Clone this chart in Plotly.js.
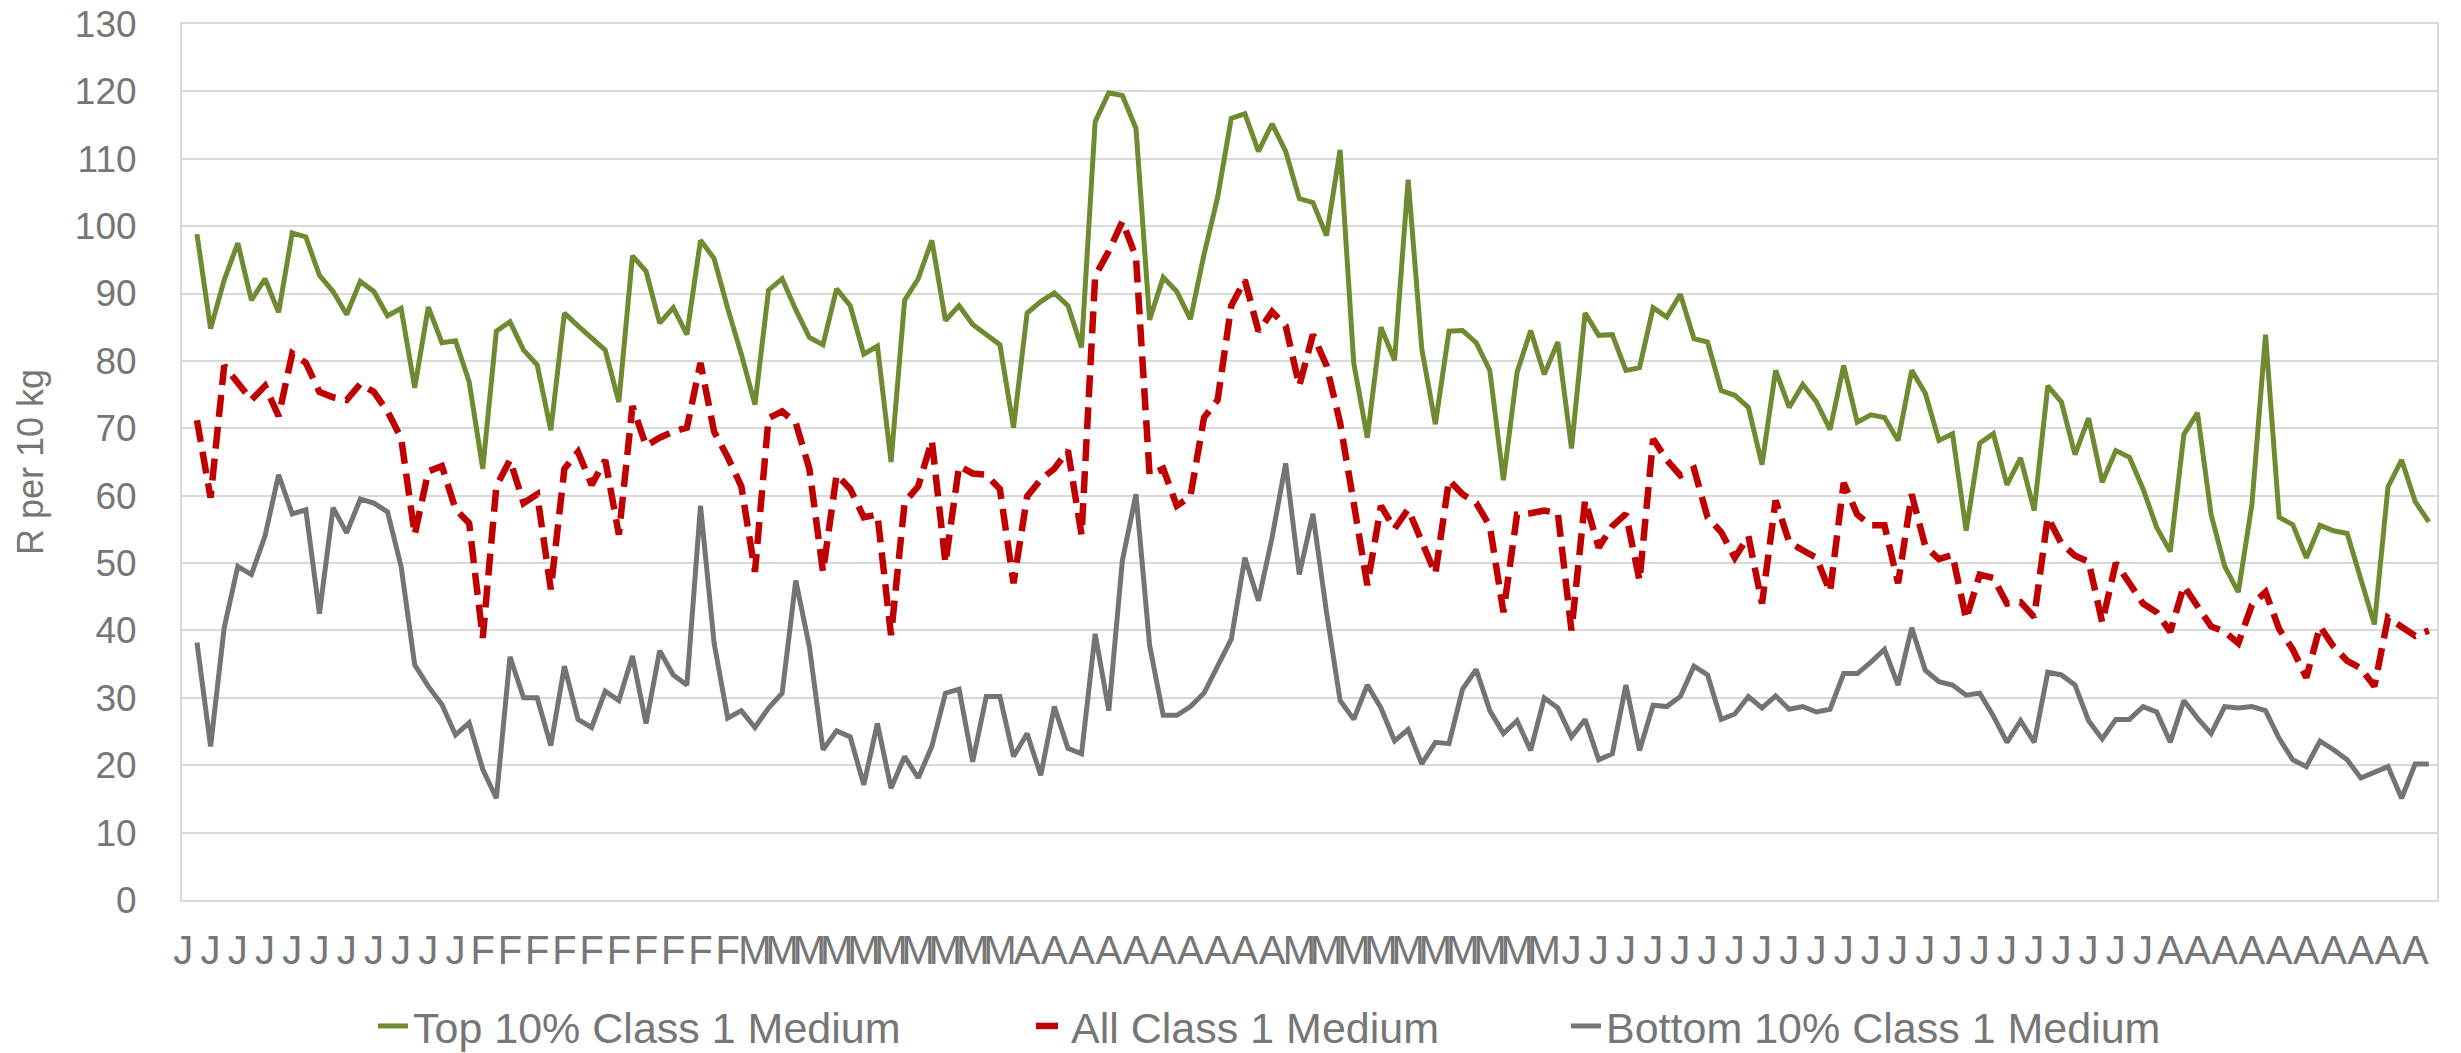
<!DOCTYPE html>
<html>
<head>
<meta charset="utf-8">
<script src="https://cdn.plot.ly/plotly-3.0.1.min.js"></script>
<style>
  html, body { margin: 0; padding: 0; background: #ffffff; }
  #chart { width: 2461px; height: 1053px; }
</style>
</head>
<body>
<div id="chart"></div>
<script>
// Month-initial tick labels (one label per two categories)
const monthLabels = [].concat(
  "JJJJJJJJJJJ".split(""),
  "FFFFFFFFFF".split(""),
  "MMMMMMMMMM".split(""),
  "AAAAAAAAAA".split(""),
  "MMMMMMMMMM".split(""),
  "JJJJJJJJJJJJJJJJJJJJJJ".split(""),
  "AAAAAAAAAA".split("")
);

// Series names
const seriesNames = ["Top 10% Class 1 Medium", "All Class 1 Medium", "Bottom 10% Class 1 Medium"];

// Top 10% Class 1 Medium (R per 10 kg)
const top10 = [
  98.8, 84.8, 92.0, 97.5, 89.0, 92.2, 87.2, 99.0, 98.4, 92.7,
  90.3, 86.9, 91.8, 90.3, 86.7, 87.8, 76.0, 88.0, 82.7, 83.0,
  76.9, 64.0, 84.4, 85.8, 81.6, 79.4, 69.7, 87.1, 85.2, 83.5,
  81.6, 73.9, 95.6, 93.3, 85.6, 87.9, 83.9, 97.9, 95.2, 87.8,
  81.0, 73.5, 90.5, 92.2, 87.6, 83.5, 82.4, 90.7, 88.2, 81.0,
  82.2, 65.0, 89.0, 92.2, 97.9, 86.0, 88.2, 85.4, 83.9, 82.4,
  70.1, 87.1, 88.8, 90.1, 88.2, 82.0, 115.5, 119.8, 119.4, 114.5,
  86.1, 92.4, 90.3, 86.2, 95.8, 104.3, 116.0, 116.7, 111.1, 115.2,
  111.1, 104.1, 103.5, 98.6, 111.3, 79.7, 68.6, 85.0, 80.1, 106.9,
  81.8, 70.6, 84.4, 84.5, 82.7, 78.6, 62.3, 78.3, 84.5, 78.0,
  82.8, 67.0, 87.1, 83.8, 83.9, 78.6, 79.0, 87.9, 86.5, 89.9,
  83.3, 82.8, 75.6, 74.9, 73.1, 64.6, 78.6, 73.1, 76.5, 73.9,
  69.8, 79.3, 70.9, 72.0, 71.6, 68.2, 78.6, 75.2, 68.2, 69.2,
  54.8, 67.8, 69.2, 61.6, 65.6, 57.8, 76.3, 73.9, 66.1, 71.5,
  62.0, 66.7, 65.7, 61.0, 55.3, 51.7, 69.1, 72.3, 57.2, 49.5,
  45.7, 58.7, 83.9, 56.8, 55.7, 50.8, 55.6, 54.8, 54.4, 47.8,
  40.9, 61.3, 65.3, 59.1, 56.1
];

// All Class 1 Medium
const allClass1 = [
  71.2, 59.7, 79.3, 76.7, 74.2, 76.3, 71.8, 81.1, 79.7, 75.4,
  74.6, 74.2, 76.6, 75.4, 72.5, 68.6, 54.2, 63.6, 64.4, 58.0,
  55.9, 38.9, 61.4, 65.3, 58.9, 60.2, 46.1, 64.0, 66.5, 61.6,
  65.3, 54.2, 73.3, 67.4, 68.6, 69.5, 70.1, 79.7, 69.5, 65.7,
  61.4, 48.7, 71.5, 72.5, 70.8, 64.0, 48.7, 63.1, 61.0, 56.8,
  57.2, 39.3, 59.0, 61.4, 68.2, 50.0, 64.4, 63.3, 63.1, 61.0,
  47.0, 59.9, 62.4, 64.0, 66.7, 54.2, 92.6, 96.3, 100.7, 95.4,
  63.1, 64.0, 58.5, 59.9, 71.6, 74.2, 88.2, 92.0, 84.4, 87.3,
  85.2, 76.3, 83.9, 79.3, 70.8, 58.9, 46.7, 58.5, 55.1, 58.0,
  53.4, 48.4, 62.3, 60.2, 58.9, 55.5, 42.7, 57.2, 57.4, 57.8,
  57.4, 40.0, 59.3, 52.3, 55.5, 57.3, 47.4, 68.4, 65.3, 63.0,
  64.0, 56.8, 54.6, 50.8, 54.0, 44.0, 59.3, 53.1, 51.9, 50.8,
  45.7, 61.9, 57.2, 55.6, 55.6, 47.0, 60.2, 52.5, 50.6, 51.2,
  41.7, 48.3, 47.8, 44.0, 44.2, 42.0, 56.8, 52.9, 51.1, 50.2,
  41.2, 50.0, 47.0, 44.0, 42.7, 39.8, 46.6, 43.6, 40.6, 39.8,
  38.1, 43.8, 45.7, 40.2, 37.2, 33.0, 40.6, 37.6, 35.5, 34.4,
  31.7, 41.9, 40.6, 39.2, 40.0
];

// Bottom 10% Class 1 Medium
const bottom10 = [
  38.2, 22.8, 40.4, 49.5, 48.3, 54.0, 63.1, 57.3, 57.9, 42.5,
  58.2, 54.5, 59.5, 58.9, 57.6, 49.5, 34.9, 31.7, 29.0, 24.5,
  26.3, 19.4, 15.1, 36.1, 30.0, 30.0, 22.9, 34.7, 26.8, 25.6,
  31.0, 29.6, 36.2, 26.2, 37.0, 33.4, 31.9, 58.5, 38.1, 27.0,
  28.1, 25.6, 28.5, 30.7, 47.4, 37.6, 22.3, 25.1, 24.2, 17.1,
  26.2, 16.6, 21.3, 18.1, 22.8, 30.7, 31.3, 20.5, 30.2, 30.2,
  21.3, 24.7, 18.5, 28.7, 22.5, 21.7, 39.5, 28.1, 50.4, 60.2,
  37.8, 27.4, 27.4, 28.7, 30.7, 34.7, 38.7, 50.8, 44.4, 53.8,
  64.8, 48.3, 57.3, 42.7, 29.6, 26.8, 31.9, 28.5, 23.6, 25.3,
  20.2, 23.4, 23.2, 31.3, 34.2, 28.1, 24.7, 26.6, 22.2, 30.0,
  28.5, 24.2, 26.8, 20.8, 21.7, 31.9, 22.2, 28.9, 28.7, 30.2,
  34.7, 33.4, 26.8, 27.6, 30.2, 28.5, 30.3, 28.3, 28.7, 27.9,
  28.3, 33.6, 33.6, 35.3, 37.2, 31.9, 40.4, 34.1, 32.4, 31.9,
  30.4, 30.7, 27.3, 23.4, 26.6, 23.4, 33.8, 33.4, 31.9, 26.6,
  23.9, 26.8, 26.8, 28.7, 27.9, 23.4, 29.6, 27.0, 24.7, 28.7,
  28.5, 28.7, 28.1, 24.0, 20.8, 19.8, 23.6, 22.3, 20.8, 18.1,
  18.9, 19.8, 15.1, 20.2, 20.2
];

// Y-axis ticks
const yTicks = [0, 10, 20, 30, 40, 50, 60, 70, 80, 90, 100, 110, 120, 130];

// ---- build chart ----
const xs = top10.map((_, i) => i + 1);          // category index of each point
const tickPos = monthLabels.map((_, k) => 2 * k); // one label every second category

const FONT = "Liberation Sans, Arial, Helvetica, sans-serif";
const TXT = "#767676";

const traces = [
  { x: xs, y: top10, name: seriesNames[0], type: "scatter", mode: "lines",
    line: { color: "#6E8B31", width: 5 }, legend: "legend" },
  { x: xs, y: allClass1, name: seriesNames[1], type: "scatter", mode: "lines",
    line: { color: "#C00000", width: 6.5, dash: "22px,10px" }, legend: "legend2" },
  { x: xs, y: bottom10, name: seriesNames[2], type: "scatter", mode: "lines",
    line: { color: "#747474", width: 5 }, legend: "legend3" }
];

const W = 2461, H = 1053;
const mL = 182, mR = 24, mT = 24, mB = 153;
const cx = p => p / W;
const cy = p => (H - p) / H;

const legendCommon = {
  orientation: "h", xanchor: "left", yanchor: "middle",
  xref: "container", yref: "container",
  font: { family: FONT, size: 43, color: TXT },
  bgcolor: "rgba(0,0,0,0)", borderwidth: 0
};

const layout = {
  width: W, height: H,
  margin: { l: mL, r: mR, t: mT, b: mB, pad: 0 },
  paper_bgcolor: "#ffffff", plot_bgcolor: "#ffffff",
  font: { family: FONT, color: TXT },
  showlegend: true,
  xaxis: {
    range: [-0.1, 165.6],
    tickmode: "array", tickvals: tickPos, ticktext: monthLabels,
    tickangle: 0, ticks: "", showgrid: false, zeroline: false,
    showline: true, linecolor: "#D9D9D9", linewidth: 2, mirror: true,
    tickfont: { family: FONT, size: 40, color: TXT },
    ticklabelstandoff: 14, automargin: false,
    fixedrange: true
  },
  yaxis: {
    range: [0, 130], tickmode: "array", tickvals: yTicks,
    ticks: "", showgrid: true, gridcolor: "#D9D9D9", gridwidth: 2,
    zeroline: false, showline: true, linecolor: "#D9D9D9", linewidth: 2, mirror: true,
    tickfont: { family: FONT, size: 37, color: TXT },
    ticklabelstandoff: 36, automargin: false,
    title: { text: "R per 10 kg", font: { family: FONT, size: 36, color: TXT }, standoff: 20 },
    fixedrange: true
  },
  legend:  Object.assign({}, legendCommon, { x: cx(373),  y: cy(1026) }),
  legend2: Object.assign({}, legendCommon, { x: cx(1031), y: cy(1026) }),
  legend3: Object.assign({}, legendCommon, { x: cx(1566), y: cy(1026) })
};

Plotly.newPlot("chart", traces, layout, { displayModeBar: false, staticPlot: true });
</script>
</body>
</html>
